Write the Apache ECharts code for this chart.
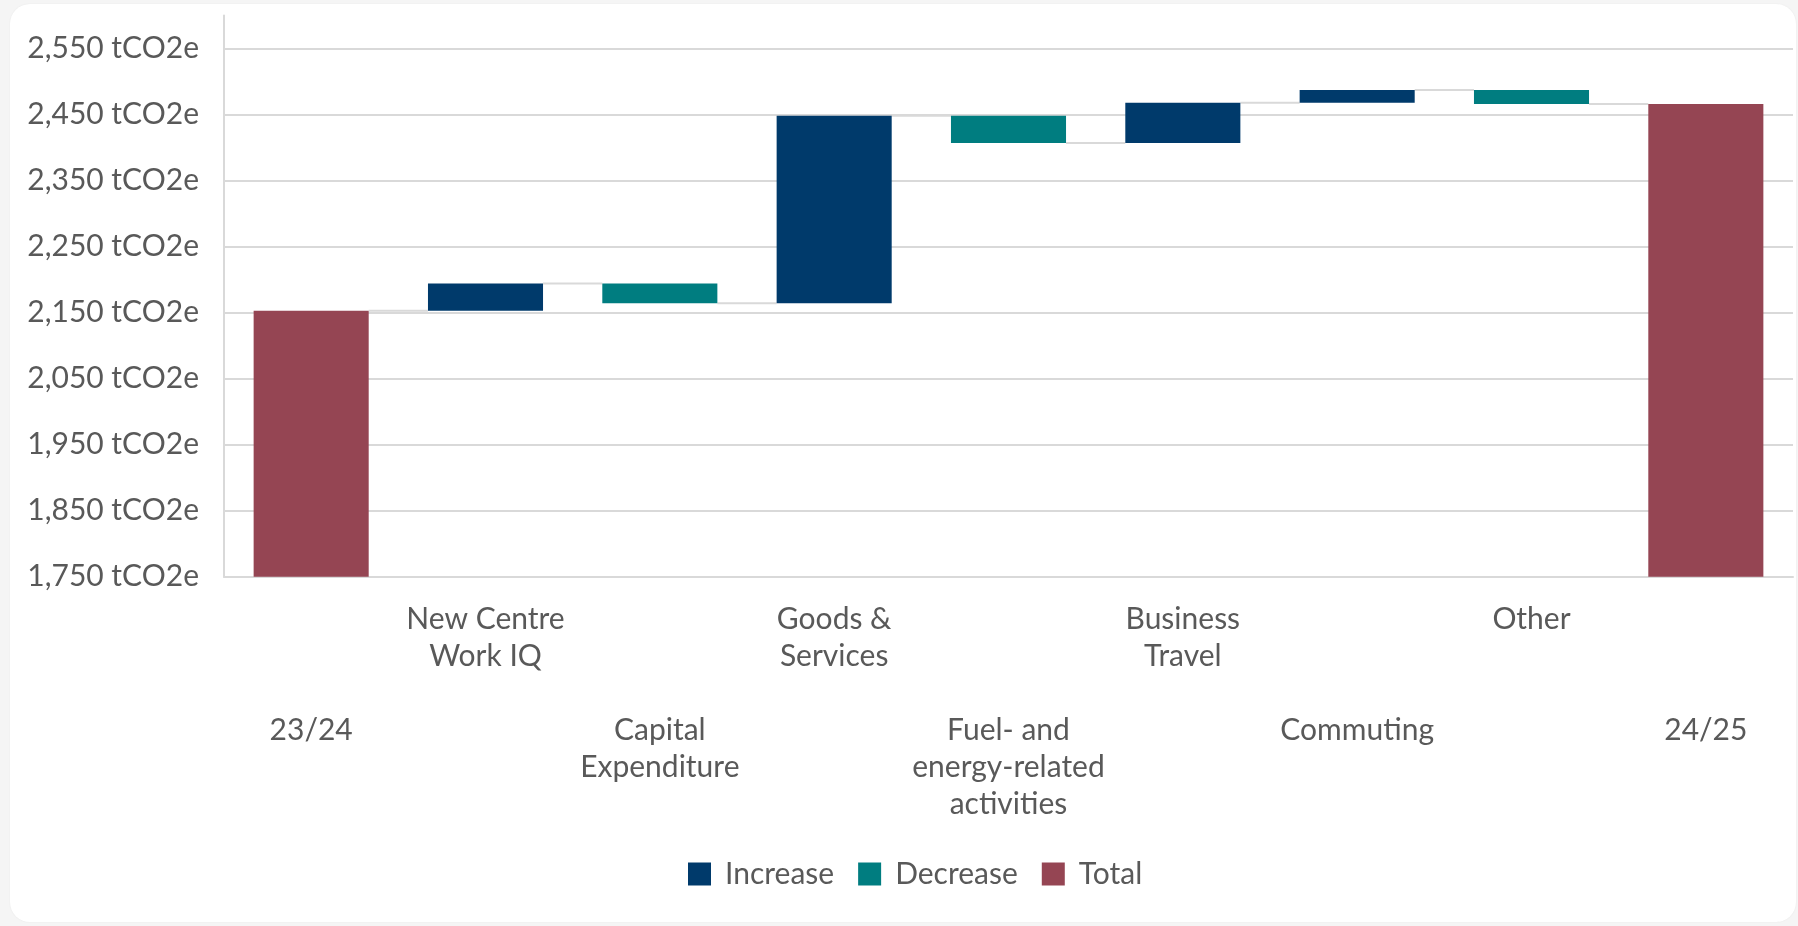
<!DOCTYPE html>
<html>
<head>
<meta charset="utf-8">
<script src="https://cdn.jsdelivr.net/npm/echarts@6/dist/echarts.min.js"></script>
<style>
  html, body { margin: 0; padding: 0; width: 1798px; height: 926px; background: #f5f5f5; overflow: hidden; }
  #card { position: absolute; left: 10px; top: 4px; width: 1786px; height: 918px; background: #ffffff; border-radius: 20px; box-shadow: 0 0 2px rgba(0,0,0,0.06); }
  #chart { position: absolute; left: 0; top: 0; width: 1798px; height: 926px; }
</style>
</head>
<body>
<div id="card"></div>
<div id="chart"></div>
<script>
// ---- data ----
const categories = [
  '23/24',
  'New Centre\nWork IQ',
  'Capital\nExpenditure',
  'Goods &\nServices',
  'Fuel- and\nenergy-related\nactivities',
  'Business\nTravel',
  'Commuting',
  'Other',
  '24/25'
];
const startTotal = 2153;          // 23/24
const endTotal = 2466;            // 24/25
const changes = [null, 41, -30, 284, -41, 61, 19, -21, null]; // tCO2e change per category
const yTicks = { min: 1750, max: 2600, interval: 100 };
const legendNames = ['Increase', 'Decrease', 'Total'];

// ---- build waterfall stacks from the values ----
const baseData = [], incData = [], decData = [], totData = [], levels = [];
let level = startTotal;
categories.forEach((c, i) => {
  if (i === 0) {
    baseData.push(0); incData.push('-'); decData.push('-'); totData.push(startTotal);
    level = startTotal;
  } else if (i === categories.length - 1) {
    baseData.push(0); incData.push('-'); decData.push('-'); totData.push(endTotal);
    level = endTotal;
  } else {
    const d = changes[i];
    if (d >= 0) {
      baseData.push(level); incData.push(d); decData.push('-'); totData.push('-');
    } else {
      baseData.push(level + d); incData.push('-'); decData.push(-d); totData.push('-');
    }
    level = level + d;
  }
  levels.push(level);
});
const connectorData = levels.slice(0, -1).map((v, i) => [i, v]);

const FONT = 'Lato';
const TXT = '#595959';
const GRID = '#d9d9d9';
const BW = 0.66;
const FS = 30;

const chart = echarts.init(document.getElementById('chart'), null, { renderer: 'canvas' });
chart.setOption({
  backgroundColor: 'transparent',
  animation: false,
  textStyle: { fontFamily: FONT },
  grid: { left: 224, right: 5, top: 15.5, bottom: 349.3, outerBoundsMode: 'none' },
  legend: {
    data: legendNames,
    left: 688,
    top: 859,
    padding: 0,
    icon: 'rect',
    itemWidth: 23,
    itemHeight: 23,
    itemGap: 24,
    textStyle: { fontFamily: FONT, fontSize: FS, color: TXT, padding: [0, 0, 0, 9] }
  },
  xAxis: {
    type: 'category',
    data: categories,
    axisLine: { show: true, lineStyle: { color: GRID, width: 2 } },
    axisTick: { show: false },
    axisLabel: {
      interval: 0,
      margin: 24,
      fontFamily: FONT,
      fontSize: FS,
      lineHeight: 37,
      color: TXT,
      align: 'center',
      formatter: (v, i) => (i % 2 === 0 ? '\n\n\n' + v : v)
    }
  },
  yAxis: {
    type: 'value',
    min: yTicks.min,
    max: yTicks.max,
    interval: yTicks.interval,
    axisLine: { show: true, lineStyle: { color: GRID, width: 2 } },
    axisTick: { show: false },
    splitLine: { show: true, showMaxLine: false, lineStyle: { color: GRID, width: 2 } },
    axisLabel: {
      showMaxLabel: false,
      margin: 25,
      fontFamily: FONT,
      fontSize: FS,
      color: TXT,
      formatter: v => v.toLocaleString('en-US') + ' tCO2e'
    }
  },
  series: [
    {
      type: 'custom',
      name: 'connector',
      z: 1,
      silent: true,
      data: connectorData,
      renderItem: (params, api) => {
        const p = api.coord([api.value(0), api.value(1)]);
        const band = api.size([1, 0])[0];
        return {
          type: 'line',
          shape: { x1: p[0] + band * BW / 2, y1: p[1], x2: p[0] + band * (1 - BW / 2), y2: p[1] },
          style: { stroke: GRID, lineWidth: 2 }
        };
      }
    },
    { name: 'base', type: 'bar', stack: 'wf', barWidth: (BW * 100) + '%', silent: true,
      itemStyle: { color: 'transparent' }, data: baseData, z: 2 },
    { name: 'Increase', type: 'bar', stack: 'wf', barWidth: (BW * 100) + '%',
      itemStyle: { color: '#003A6B' }, data: incData, z: 3 },
    { name: 'Decrease', type: 'bar', stack: 'wf', barWidth: (BW * 100) + '%',
      itemStyle: { color: '#007D80' }, data: decData, z: 3 },
    { name: 'Total', type: 'bar', stack: 'wf', barWidth: (BW * 100) + '%',
      itemStyle: { color: '#954553' }, data: totData, z: 3 }
  ]
});
</script>
</body>
</html>
